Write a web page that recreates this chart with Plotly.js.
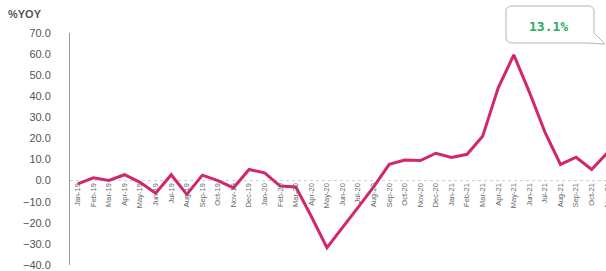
<!DOCTYPE html>
<html>
<head>
<meta charset="utf-8">
<script src="https://cdn.plot.ly/plotly-3.0.1.min.js"></script>
<style>html,body{margin:0;padding:0;overflow:hidden;background:#fff;}</style>
</head>
<body>
<div id="chart"></div>
<script>
const categories = ["Jan-19","Feb-19","Mar-19","Apr-19","May-19","Jun-19","Jul-19","Aug-19","Sep-19","Oct-19","Nov-19","Dec-19",
  "Jan-20","Feb-20","Mar-20","Apr-20","May-20","Jun-20","Jul-20","Aug-20","Sep-20","Oct-20","Nov-20","Dec-20",
  "Jan-21","Feb-21","Mar-21","Apr-21","May-21","Jun-21","Jul-21","Aug-21","Sep-21","Oct-21","Nov-21"];
const yoyValues = [-1.5, 1.3, 0.1, 2.8, -0.8, -6.0, 2.8, -6.5, 2.6, 0.0, -3.4, 5.3,
  3.7, -2.6, -3.0, -17.0, -31.8, -22.0, -12.7, -3.0, 7.7, 9.8, 9.5, 13.0,
  11.0, 12.5, 21.0, 44.0, 59.6, 42.0, 23.0, 7.7, 11.1, 5.3, 13.1];
const yTickValues = [-40, -30, -20, -10, 0, 10, 20, 30, 40, 50, 60, 70];
const calloutText = "13.1%";
const yRange = [-40, 70];

// page geometry (layout only)
const W = 620, H = 271, ML = 70, MR = 5, MT = 33, MB = 6;
const PW = W - ML - MR, PH = H - MT - MB;
const px = v => (v - ML) / PW;          // pixel x -> paper x
const py = v => (H - MB - v) / PH;      // pixel y -> paper y

// rounded callout bubble with tail (decoration)
function bubblePath(x0, y0, x1, y1, r) {
  const P = (x, y) => px(x).toFixed(5) + "," + py(y).toFixed(5);
  return "M" + P(x0 + r, y0) +
    " L" + P(x1 - r, y0) +
    " Q" + P(x1, y0) + " " + P(x1, y0 + r) +
    " L" + P(x1, y1 - 10) +
    " L" + P(x1 + 11, y1 + 1) +
    " L" + P(x1 - 7, y1) +
    " L" + P(x0 + r, y1) +
    " Q" + P(x0, y1) + " " + P(x0, y1 - r) +
    " L" + P(x0, y0 + r) +
    " Q" + P(x0, y0) + " " + P(x0 + r, y0) + " Z";
}

const trace = {
  x: categories,
  y: yoyValues,
  type: "scatter",
  mode: "lines",
  line: {color: "#D2266F", width: 3},
  hoverinfo: "skip"
};

const layout = {
  width: W,
  height: H,
  margin: {l: ML, r: MR, t: MT, b: MB},
  paper_bgcolor: "#fff",
  plot_bgcolor: "#fff",
  showlegend: false,
  font: {family: "Liberation Sans, Arial, sans-serif", color: "#555"},
  title: {
    text: "<b>%YOY</b>",
    x: 8 / W, xanchor: "left", xref: "container",
    y: 1 - 14 / H, yanchor: "middle", yref: "container",
    font: {size: 11, color: "#555"}
  },
  xaxis: {
    type: "category",
    range: [-0.5, categories.length - 0.5],
    anchor: "free",
    position: (0 - yRange[0]) / (yRange[1] - yRange[0]),
    tickmode: "array",
    tickvals: categories,
    ticktext: categories,
    showline: false,
    showgrid: false,
    zeroline: false,
    ticks: "",
    tickangle: -90,
    tickfont: {size: 7.5, color: "#666"},
    fixedrange: true
  },
  yaxis: {
    range: yRange,
    tickvals: yTickValues,
    tickformat: ".1f",
    showgrid: false,
    zeroline: false,
    showline: true,
    linecolor: "#9a9a9a",
    linewidth: 1,
    ticks: "",
    ticklabelstandoff: 16,
    tickfont: {size: 11, color: "#555"},
    fixedrange: true
  },
  shapes: [
    {
      type: "line", xref: "paper", yref: "y",
      x0: 0, x1: 1, y0: 0, y1: 0,
      line: {color: "#c8cfc8", width: 1, dash: "dot"},
      layer: "below"
    },
    {
      type: "path", xref: "paper", yref: "paper",
      path: bubblePath(506, 6, 594, 43, 6),
      line: {color: "#b5b5b5", width: 1},
      fillcolor: "#fff",
      layer: "above"
    }
  ],
  annotations: [{
    xref: "paper", yref: "paper",
    x: px(548), y: py(26),
    xanchor: "center", yanchor: "middle",
    showarrow: false,
    text: "<b>" + calloutText + "</b>",
    font: {size: 13, color: "#2DAA5E", family: "DejaVu Sans Mono, monospace"}
  }]
};

Plotly.newPlot("chart", [trace], layout, {staticPlot: true, displayModeBar: false});
</script>
</body>
</html>
